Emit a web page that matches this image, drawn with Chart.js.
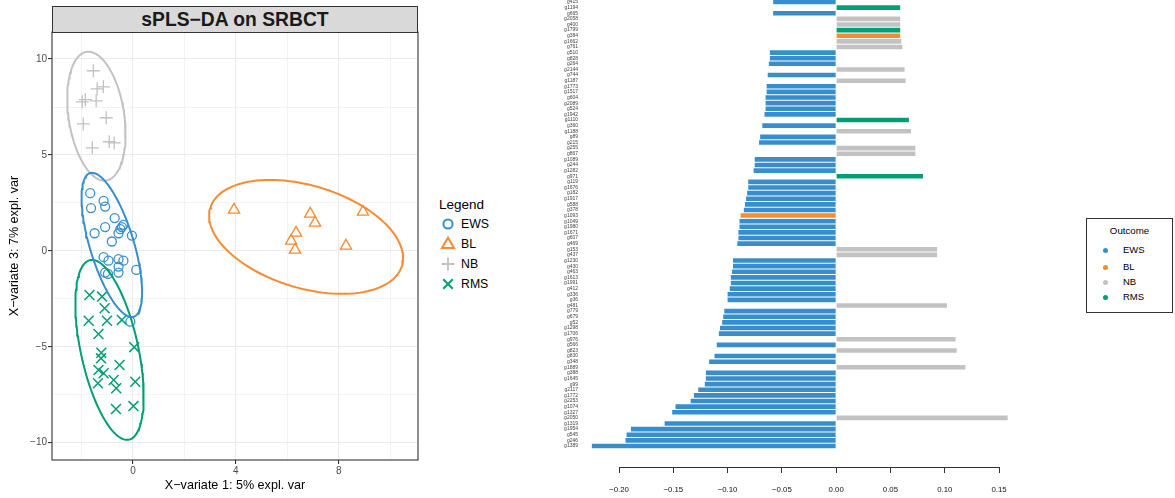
<!DOCTYPE html>
<html><head><meta charset="utf-8">
<script src="https://cdn.jsdelivr.net/npm/chart.js@4.4.1/dist/chart.umd.min.js"></script>
<style>
html,body{margin:0;padding:0;background:#fff;width:1175px;height:498px;overflow:hidden;font-family:"Liberation Sans",Arial,sans-serif;}
#leftWrap{position:absolute;left:0;top:0;width:430px;height:498px;}
#rightWrap{position:absolute;left:540px;top:0;width:540px;height:498px;}
#strip{position:absolute;left:52px;top:6px;width:364px;height:25px;background:#d9d9d9;border:1px solid #333;font-weight:bold;font-size:19.3px;text-align:center;line-height:26px;color:#1a1a1a;}
#leg1{position:absolute;left:439px;top:196px;width:90px;height:100px;color:#000;}
#leg1 .t{position:absolute;left:0;top:0;font-size:13.5px;line-height:18px;}
#leg1 .it{position:absolute;left:0;height:20px;font-size:12.3px;line-height:20px;}
#leg1 .it svg{position:absolute;left:0;top:0;}
#leg1 .it span{position:absolute;left:22px;top:0;}
#leg2{position:absolute;left:1086px;top:218px;width:85px;height:93px;border:1px solid #333;color:#000;}
#leg2 .t{position:absolute;left:0;width:85px;text-align:center;top:6px;font-size:9.7px;}
#leg2 .it{position:absolute;left:0;font-size:9.5px;height:12px;line-height:12px;}
#leg2 .dot{position:absolute;left:16px;top:3.5px;width:5px;height:5px;border-radius:50%;}
#leg2 .it span{position:absolute;left:36px;top:0;white-space:nowrap;}
</style></head>
<body>
<div id="leftWrap"><canvas id="c1"></canvas></div>
<div id="strip">sPLS−DA on SRBCT</div>
<div id="leg1"></div>
<div id="rightWrap"><canvas id="c2"></canvas></div>
<div id="leg2"></div>
<script>
// ---------- Data: sample plot ----------
const groupNames = ['EWS','BL','NB','RMS'];
const groupColors = ['#388ECC','#F68B33','#C2C2C2','#009E73'];

const ewsX = [-1.66,-1.14,-1.63,-1.08,-0.71,-0.37,-0.43,-0.49,-1.08,-1.49,-0.56,-0.04,-0.82,-1.14,-0.95,-0.56,-0.37,-0.56,-1.08,-0.97,-0.56,0.13,-0.10];
const ewsY = [3.01,2.61,2.23,2.31,1.71,1.36,1.24,1.13,1.24,0.92,0.92,0.80,0.49,-0.33,-0.51,-0.43,-0.51,-0.82,-1.13,-1.20,-1.13,-0.99,-3.69];
const blX = [3.93,6.89,8.94,6.34,7.08,6.15,6.30,8.28];
const blY = [2.14,1.93,2.03,0.94,1.46,0.52,0.05,0.26];
const nbX = [-1.54,-1.39,-1.15,-1.97,-1.85,-1.43,-1.93,-1.04,-0.92,-0.73,-1.58];
const nbY = [9.39,8.45,8.55,7.77,7.88,7.82,6.62,6.94,5.69,5.63,5.37];
const rmsX = [-1.69,-1.20,-1.10,-1.72,-1.01,-0.43,-1.34,0.05,-1.23,-1.24,-0.52,-1.34,-1.14,-1.36,-0.75,-0.65,0.09,-0.66,0.02];
const rmsY = [-2.30,-2.38,-2.99,-3.64,-3.64,-3.60,-4.33,-5.02,-5.31,-5.60,-5.95,-6.21,-6.38,-6.90,-6.73,-7.16,-6.82,-8.24,-8.09];

// confidence ellipses: centre, conjugate semi-diameter (ax, ay) and horizontal half-chord b
const ellCx = [-0.82, 6.73, -1.42, -0.91];
const ellCy = [0.31, 0.73, 7.02, -5.16];
const ellAx = [-0.77, -1.40, -0.31, -0.68];
const ellAy = [3.76, 2.97, 3.36, 4.69];
const ellB  = [0.89, 3.50, 1.09, 1.14];

const xTicksL = [-2,0,2,4,6,8,10];
const yTicksL = [-10,-7.5,-5,-2.5,0,2.5,5,7.5,10];

// ---------- Data: loadings plot ----------
const genes = ['g415','g1194','g665','g2058','g400','g1799','g384','g1662','g761','g510',
'g828','g264','g2144','g744','g1187','g1773','g1517','g604','g2089','g524',
'g1942','g1110','g360','g1188','g89','g215','g255','g867','g1089','g244',
'g1282','g971','g119','g1676','g182','g1917','g588','g378','g1093','g1049',
'g1980','g1671','g607','g469','g153','g437','g1230','g430','g463','g1613',
'g1991','g412','g336','g36','g481','g779','g679','g52','g1298','g1706',
'g976','g566','g823','g830','g348','g1889','g388','g1645','g99','g2117',
'g1772','g2253','g1074','g1327','g2050','g1319','g1954','g545','g246','g1389'];
const loadings = [
-0.058, 0.059, -0.058, 0.059, 0.059, 0.059, 0.059, 0.060, 0.061, -0.061,
-0.061, -0.062, 0.063, -0.063, 0.064, -0.064, -0.064, -0.065, -0.065, -0.065,
-0.066, 0.067, -0.068, 0.069, -0.070, -0.071, 0.073, 0.073, -0.075, -0.075,
-0.076, 0.080, -0.081, -0.081, -0.082, -0.083, -0.084, -0.085, -0.088, -0.089,
-0.089, -0.090, -0.090, -0.091, 0.093, 0.093, -0.095, -0.095, -0.096, -0.097,
-0.097, -0.098, -0.100, -0.100, 0.102, -0.103, -0.104, -0.105, -0.107, -0.108,
0.110, -0.110, 0.111, -0.112, -0.117, 0.119, -0.120, -0.120, -0.121, -0.127,
-0.131, -0.134, -0.148, -0.151, 0.158, -0.158, -0.189, -0.193, -0.194, -0.225];
const contrib = [
'EWS','RMS','EWS','NB','NB','RMS','BL','NB','NB','EWS',
'EWS','EWS','NB','EWS','NB','EWS','EWS','EWS','EWS','EWS',
'EWS','RMS','EWS','NB','EWS','EWS','NB','NB','EWS','EWS',
'EWS','RMS','EWS','EWS','EWS','EWS','EWS','EWS','BL','EWS',
'EWS','EWS','EWS','EWS','NB','NB','EWS','EWS','EWS','EWS',
'EWS','EWS','EWS','EWS','NB','EWS','EWS','EWS','EWS','EWS',
'NB','EWS','NB','EWS','EWS','NB','EWS','EWS','EWS','EWS',
'EWS','EWS','EWS','EWS','NB','EWS','EWS','EWS','EWS','EWS'];
const barTicks = [-0.20,-0.15,-0.10,-0.05,0.00,0.05,0.10,0.15];

// ---------- helpers ----------
Chart.defaults.font.family = '"Liberation Sans", Arial, sans-serif';
Chart.defaults.animation = false;
const minus = s => s.replace('-', '\u2212');
const pts = (xs, ys) => xs.map((x,i)=>({x:x, y:ys[i]}));
function ellipse(k){
  const out = [];
  for(let j=0;j<=120;j++){
    const t = j/120*2*Math.PI;
    out.push({x: ellCx[k] + ellAx[k]*Math.cos(t) + ellB[k]*Math.sin(t), y: ellCy[k] + ellAy[k]*Math.cos(t)});
  }
  return out;
}
const colorOf = g => groupColors[groupNames.indexOf(g)];
const isMajX = v => Math.abs(v % 4) < 1e-9;
const isMajY = v => Math.abs(v % 5) < 1e-9;

const panelBorder = {
  id:'panelBorder',
  afterDraw(chart){
    const a = chart.chartArea, c = chart.ctx;
    c.save(); c.strokeStyle = '#333'; c.lineWidth = 1.1;
    c.strokeRect(a.left, a.top, a.right-a.left, a.bottom-a.top);
    c.restore();
  }
};

const symStyles = ['circle','triangle','cross','crossRot'];
const symRadius = [4.5, 6.5, 6.5, 7];
const symWidth = [1.3, 1.3, 1.3, 1.5];
const groupX = [ewsX, blX, nbX, rmsX];
const groupY = [ewsY, blY, nbY, rmsY];

const ds1 = [];
groupNames.forEach((g,k)=>{
  ds1.push({label:g+' ellipse', data: ellipse(k), showLine:true, pointRadius:0, borderColor:groupColors[k], borderWidth:2, fill:false, tension:0});
});
groupNames.forEach((g,k)=>{
  ds1.push({label:g, data: pts(groupX[k], groupY[k]), pointStyle:symStyles[k], pointRadius:symRadius[k], pointBorderWidth:symWidth[k], borderColor:groupColors[k], backgroundColor:'rgba(0,0,0,0)', showLine:false});
});

new Chart(document.getElementById('c1'), {
  type:'scatter',
  data:{datasets: ds1},
  options:{
    responsive:true, maintainAspectRatio:false,
    layout:{padding:{top:32,right:12,left:0,bottom:0}},
    plugins:{legend:{display:false}, tooltip:{enabled:false}},
    scales:{
      x:{type:'linear', min:-3.146, max:11.08,
        afterBuildTicks: s => { s.ticks = xTicksL.map(v=>({value:v})); },
        afterFit: s => { s.height = 38; },
        border:{display:false},
        grid:{color:'#ebebeb', lineWidth: c => (c.tick && isMajX(c.tick.value)) ? 1.1 : 0.6,
              tickColor: c => (c.tick && isMajX(c.tick.value)) ? '#333' : 'rgba(0,0,0,0)', tickLength:4, drawTicks:true},
        ticks:{autoSkip:false, maxRotation:0, padding:1, color:'#4d4d4d', font:{size:10},
              callback: v => isMajX(v) ? minus(String(v)) : ''},
        title:{display:true, text:'X\u2212variate 1: 5% expl. var', color:'#000', font:{size:12.6}, padding:{top:0,bottom:5}}
      },
      y:{type:'linear', min:-10.9, max:11.41,
        afterBuildTicks: s => { s.ticks = yTicksL.map(v=>({value:v})); },
        afterFit: s => { s.width = 52; },
        border:{display:false},
        grid:{color:'#ebebeb', lineWidth: c => (c.tick && isMajY(c.tick.value)) ? 1.1 : 0.6,
              tickColor: c => (c.tick && isMajY(c.tick.value)) ? '#333' : 'rgba(0,0,0,0)', tickLength:4, drawTicks:true},
        ticks:{autoSkip:false, padding:1, color:'#4d4d4d', font:{size:10},
              callback: v => isMajY(v) ? minus(String(v)) : ''},
        title:{display:true, text:'X\u2212variate 3: 7% expl. var', color:'#000', font:{size:12.6}, padding:{top:7,bottom:0}}
      }
    }
  },
  plugins:[panelBorder]
});

// left legend (HTML)
(function(){
  const L = document.getElementById('leg1');
  let h = '<div class="t">Legend</div>';
  const svgs = [
    '<circle cx="9" cy="10" r="4.6" fill="none" stroke="#388ECC" stroke-width="2"/>',
    '<polygon points="9,3.8 15,14 3,14" fill="none" stroke="#F68B33" stroke-width="2" stroke-linejoin="miter"/>',
    '<path d="M2.5 10 H15.5 M9 3.5 V16.5" stroke="#C2C2C2" stroke-width="1.8"/>',
    '<path d="M4.2 5.2 L13.8 14.8 M13.8 5.2 L4.2 14.8" stroke="#009E73" stroke-width="2"/>'
  ];
  groupNames.forEach((g,k)=>{
    h += '<div class="it" style="top:'+(18+k*20)+'px"><svg width="18" height="20">'+svgs[k]+'</svg><span>'+g+'</span></div>';
  });
  L.innerHTML = h;
})();

// ---------- loadings bar chart ----------
new Chart(document.getElementById('c2'), {
  type:'bar',
  data:{datasets:[{
    label:'loadings',
    data: genes.map((g,i)=>({x:loadings[i], y:i})),
    backgroundColor: contrib.map(colorOf),
    borderWidth:0, clip:false,
    categoryPercentage:1, barPercentage:0.82
  }]},
  options:{
    indexAxis:'y',
    responsive:true, maintainAspectRatio:false,
    layout:{padding:{top:0,right:81,left:0,bottom:0}},
    plugins:{legend:{display:false}, tooltip:{enabled:false}},
    scales:{
      x:{type:'linear', min:-0.2, max:0.15, offset:false,
        afterBuildTicks: s => { s.ticks = barTicks.map(v=>({value:v})); },
        afterFit: s => { s.height = 31; s.paddingLeft = 0; s.paddingRight = 0; },
        border:{display:true, color:'#333', width:1},
        grid:{display:true, drawOnChartArea:false, drawTicks:true, tickLength:6, color:'#333', tickColor:'#333', lineWidth:1, offset:false},
        ticks:{autoSkip:false, maxRotation:0, padding:12, color:'#111', font:{size:7.8},
              callback: v => minus(Number(v).toFixed(2))}
      },
      y:{type:'linear', reverse:true, min:-0.356, max:82.74, offset:false,
        afterBuildTicks: s => { s.ticks = genes.map((g,i)=>({value:i})); },
        afterFit: s => { s.width = 79; s.paddingTop = 0; s.paddingBottom = 0; },
        border:{display:false},
        grid:{display:false, drawTicks:false, offset:false},
        ticks:{autoSkip:false, padding:41, color:'#444', font:{size:5},
              callback: v => genes[Math.round(v)]}
      }
    }
  }
});

// right legend (HTML)
(function(){
  const L = document.getElementById('leg2');
  let h = '<div class="t">Outcome</div>';
  const ys = [25, 42, 57, 72];
  groupNames.forEach((g,k)=>{
    h += '<div class="it" style="top:'+ys[k]+'px"><div class="dot" style="background:'+groupColors[k]+'"></div><span>'+g+'</span></div>';
  });
  L.innerHTML = h;
})();
</script>
</body></html>
